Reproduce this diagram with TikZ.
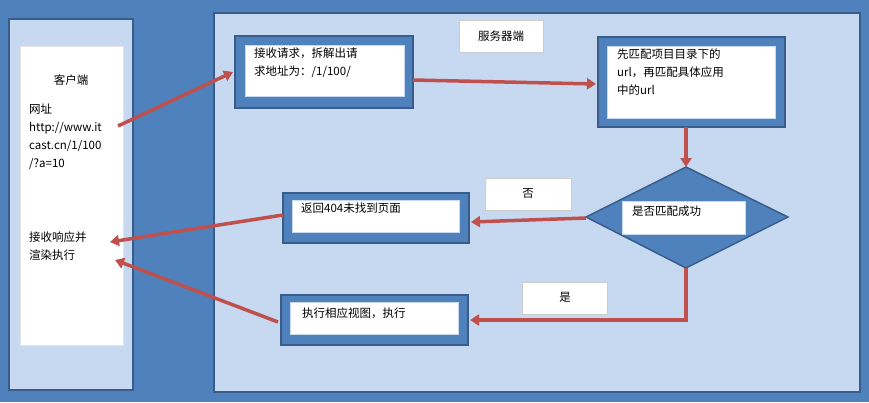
\documentclass[tikz,border=0pt]{standalone}
\usepackage{fontspec}
\setmainfont{Noto Sans CJK SC}
\usetikzlibrary{arrows.meta}
\definecolor{dk}{HTML}{4F81BD}
\definecolor{lt}{HTML}{C6D9F0}
\definecolor{bd}{HTML}{385D8A}
\definecolor{rd}{HTML}{C0504D}
\tikzset{
 outer/.style={draw=bd,line width=1.5pt,fill=dk},
 inner/.style={draw=lt,line width=0.6pt,fill=white},
 arr/.style={draw=rd,line width=3.5pt,-{Triangle[length=9pt,width=11pt]}},
 txt/.style={font=\fontsize{11.5}{18}\selectfont,align=left,inner sep=0pt,anchor=north west},
 lbl/.style={font=\fontsize{11.5}{14}\selectfont}
}
\begin{document}
\begin{tikzpicture}[x=1pt,y=-1pt]
\useasboundingbox (0,0) rectangle (869,402);
\fill[dk] (0,0) rectangle (869,402);
\draw[bd,line width=1.5pt,fill=lt] (9,19) rectangle (133,390);
\draw[white!80!gray,fill=white] (20,46) rectangle (123,345);
\draw[bd,line width=1.5pt,fill=lt] (214,13) rectangle (860,392);
\draw[gray!40,fill=white] (459,20) rectangle (543,52);
\node[lbl] at (501,36) {服务器端};
\node[lbl] (c1) at (71,80) {客户端};
\node[txt] (url) at (29,104) {网址\\http://www.it\\cast.cn/1/100\\/?a=10};
\node[txt] (resp) at (29,232) {接收响应并\\渲染执行};
\coordinate (uout) at (118,126);
\coordinate (rin1) at (110,242);
\coordinate (rin2) at (115,260);
% box1
\draw[outer] (235,36) rectangle (413,108);
\draw[inner] (245,45) rectangle (404,96);
\node[txt] at (254,48) {接收请求，拆解出请\\求地址为：/1/100/};
\coordinate (b1l) at (233,72);
\coordinate (b1r) at (413,80);
% box2
\draw[outer] (598,37) rectangle (785,127);
\draw[inner] (607,46) rectangle (775,118);
\node[txt] at (617,49) {先匹配项目目录下的\\url，再匹配具体应用\\中的url};
\coordinate (b2l) at (596,84);
\coordinate (b2b) at (686,127);
% diamond
\draw[outer] (586,217) -- (686,167) -- (788,217) -- (686,268) -- cycle;
\draw[inner] (622,201) rectangle (745,234);
\node[txt] at (632,206) {是否匹配成功};
\coordinate (dt) at (686,167);
\coordinate (dl) at (586,218);
\coordinate (db) at (686,268);
% 404
\draw[outer] (283,193) rectangle (469,243);
\draw[inner] (292,200) rectangle (459,232);
\node[txt] at (301,203) {返回404未找到页面};
\coordinate (n4r) at (471,222);
\coordinate (n4l) at (283,215);
% exec
\draw[outer] (281,295) rectangle (468,345);
\draw[inner] (290,302) rectangle (458,334);
\node[txt] at (302,308) {执行相应视图，执行};
\coordinate (exr) at (470,320);
\coordinate (exl) at (278,322);
% labels
\draw[gray!40,fill=white] (485,178) rectangle (571,210);
\node[lbl] at (528,193) {否};
\draw[gray!40,fill=white] (522,282) rectangle (607,314);
\node[lbl] at (565,297) {是};
% arrows
\draw[arr] (uout) -- (b1l);
\draw[arr] (b1r) -- (b2l);
\draw[arr] (b2b) -- (dt);
\draw[arr] (dl) -- (n4r);
\draw[arr] (db) -- (686,320) -- (exr);
\draw[arr] (n4l) -- (rin1);
\draw[arr] (exl) -- (rin2);
\end{tikzpicture}
\end{document}
